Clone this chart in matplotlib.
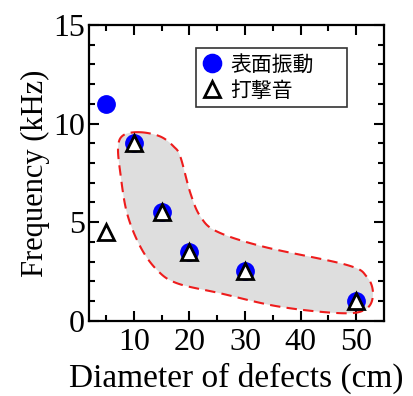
import matplotlib.pyplot as plt
import numpy as np
from matplotlib.patches import Polygon

# Measured resonance frequency vs. defect diameter
diameter = [5, 10, 15, 20, 30, 50]
surface_vib = [11.0, 9.0, 5.5, 3.5, 2.5, 1.0]
hammering = [4.5, 9.0, 5.5, 3.5, 2.5, 1.0]

# Outline of the highlighted region (data coordinates, smoothed below)
region_x = [11.2, 14.8, 17.2, 18.4, 20.2, 22.0, 25.0, 33.4, 48.3, 51.9, 53.0,
            51.9, 47.7, 36.3, 25.6, 17.8, 14.2, 11.2, 8.8, 7.6, 7.2, 8.2]
region_y = [9.56, 9.34, 8.83, 8.3, 6.46, 5.28, 4.52, 3.75, 2.83, 2.23, 1.39,
            0.63, 0.38, 0.71, 1.39, 1.9, 2.57, 3.75, 5.45, 7.48, 8.83, 9.42]


def closed_catmull_rom(xs, ys, n=20):
    pts = np.column_stack([xs, ys])
    m = len(pts)
    out = []
    t = np.linspace(0, 1, n, endpoint=False)[:, None]
    for i in range(m):
        p0, p1, p2, p3 = pts[i - 1], pts[i], pts[(i + 1) % m], pts[(i + 2) % m]
        seg = 0.5 * ((2 * p1) + (-p0 + p2) * t
                     + (2 * p0 - 5 * p1 + 4 * p2 - p3) * t ** 2
                     + (-p0 + 3 * p1 - 3 * p2 + p3) * t ** 3)
        out.append(seg)
    return np.vstack(out)


plt.rcParams["font.family"] = ["Liberation Serif", "DejaVu Serif"]
plt.rcParams["hatch.color"] = "#b0b0b0"
plt.rcParams["hatch.linewidth"] = 0.5

fig = plt.figure(figsize=(4.13, 3.96), dpi=100)
ax = fig.add_axes([0.216, 0.190, 0.714, 0.747])

outline = closed_catmull_rom(region_x, region_y)
ax.add_patch(Polygon(outline, closed=True, facecolor="#dedede",
                     hatch="xxxxxx", edgecolor="none", zorder=1))
ax.add_patch(Polygon(outline, closed=True, facecolor="none",
                     edgecolor="#ee1c1c", linestyle=(0, (5, 3)),
                     linewidth=1.5, zorder=2))

ax.plot(diameter, surface_vib, "o", color="#0000ff", markersize=12.5,
        linestyle="none", label="表面振動", zorder=3)
ax.plot(diameter, hammering, "^", markerfacecolor="white",
        markeredgecolor="black", markeredgewidth=2, markersize=11.5,
        linestyle="none", label="打撃音", zorder=4)

ax.set_xlim(2, 55)
ax.set_ylim(0, 15)
ax.set_xticks([10, 20, 30, 40, 50])
ax.set_xticks(np.arange(5, 55, 5), minor=True)
ax.set_yticks([0, 5, 10, 15])
ax.set_yticks(np.arange(0, 16, 1), minor=True)
ax.tick_params(which="both", direction="in", top=True, right=True,
               width=1.5, labelsize=23)
ax.tick_params(which="major", length=7)
ax.tick_params(which="minor", length=4.5)
ax.tick_params(axis="x", pad=5)
ax.tick_params(axis="y", pad=3)
for s in ax.spines.values():
    s.set_linewidth(1.6)

ax.set_xlabel("Diameter of defects (cm)", fontsize=24, labelpad=4)
ax.set_ylabel("Frequency (kHz)", fontsize=22, labelpad=2)

# legend box stretched across a fixed span of the axes
leg = ax.legend(loc="upper left", bbox_to_anchor=(0.362, 0.5, 0.511, 0.421),
                mode="expand",
                prop={"family": ["Noto Sans CJK JP", "DejaVu Sans"], "size": 15},
                frameon=True, fancybox=False, edgecolor="black",
                handletextpad=0.35, borderpad=0.25, labelspacing=0.2,
                handlelength=1.05, borderaxespad=0, markerscale=1.05)
leg.get_frame().set_linewidth(1.2)

fig.savefig("out.png", dpi=100)
